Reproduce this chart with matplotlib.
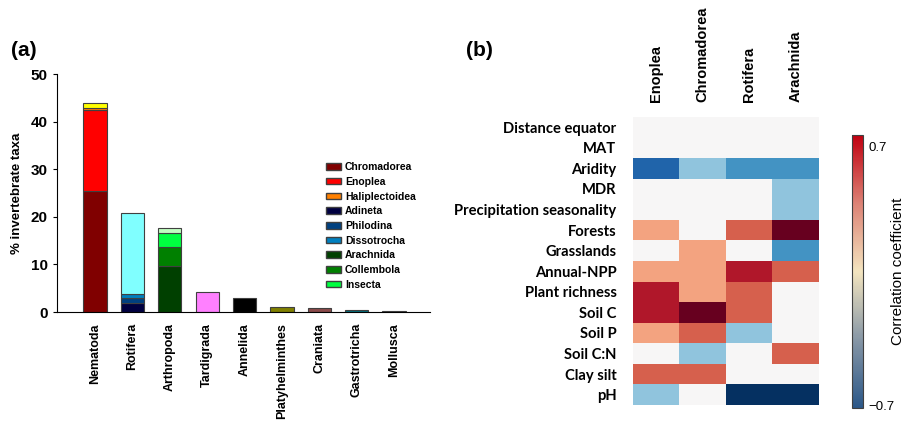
import numpy as np
import matplotlib
matplotlib.use('Agg')
import matplotlib.pyplot as plt
from matplotlib.colors import LinearSegmentedColormap, Normalize
from matplotlib.patches import Patch

# ---- panel (a): stacked bars ----
phyla = ['Nematoda', 'Rotifera', 'Arthropoda', 'Tardigrada', 'Annelida',
         'Platyhelminthes', 'Craniata', 'Gastrotricha', 'Mollusca']

# layer values per phylum (bottom to top)
chromadorea    = [25.4, 0, 0, 0, 0, 0, 0, 0, 0]
enoplea        = [17.0, 0, 0, 0, 0, 0, 0, 0, 0]
haliplectoidea = [0.5, 0, 0, 0, 0, 0, 0, 0, 0]
nematoda_other = [1.0, 0, 0, 0, 0, 0, 0, 0, 0]
adineta        = [0, 1.9, 0, 0, 0, 0, 0, 0, 0]
philodina      = [0, 1.0, 0, 0, 0, 0, 0, 0, 0]
dissotrocha    = [0, 0.9, 0, 0, 0, 0, 0, 0, 0]
rotifera_other = [0, 17.1, 0, 0, 0, 0, 0, 0, 0]
arachnida      = [0, 0, 9.7, 0, 0, 0, 0, 0, 0]
collembola     = [0, 0, 4.0, 0, 0, 0, 0, 0, 0]
insecta        = [0, 0, 3.0, 0, 0, 0, 0, 0, 0]
arthropoda_other = [0, 0, 1.0, 0, 0, 0, 0, 0, 0]
phylum_total   = [0, 0, 0, 4.2, 2.9, 1.1, 0.9, 0.4, 0.15]
phylum_colors  = ['none', 'none', 'none', '#ff80ff', '#000000', '#808000',
                  '#8b4a4a', '#007080', '#c0c0c0']

layers = [
    ('Chromadorea', chromadorea, '#800000', True),
    ('Enoplea', enoplea, '#ff0000', True),
    ('Haliplectoidea', haliplectoidea, '#ff8000', True),
    ('', nematoda_other, '#ffff00', False),
    ('Adineta', adineta, '#000040', True),
    ('Philodina', philodina, '#004080', True),
    ('Dissotrocha', dissotrocha, '#0080c0', True),
    ('', rotifera_other, '#80ffff', False),
    ('Arachnida', arachnida, '#004000', True),
    ('Collembola', collembola, '#008000', True),
    ('Insecta', insecta, '#00ff40', True),
    ('', arthropoda_other, '#c0ffc0', False),
]

# ---- panel (b): heatmap ----
predictors = ['Distance equator', 'MAT', 'Aridity', 'MDR', 'Precipitation seasonality',
              'Forests', 'Grasslands', 'Annual-NPP', 'Plant richness', 'Soil C',
              'Soil P', 'Soil C:N', 'Clay silt', 'pH']
taxa = ['Enoplea', 'Chromadorea', 'Rotifera', 'Arachnida']
corr = np.array([
    [0, 0, 0, 0],
    [0, 0, 0, 0],
    [-0.56, -0.28, -0.42, -0.42],
    [0, 0, 0, -0.28],
    [0, 0, 0, -0.28],
    [0.28, 0, 0.42, 0.7],
    [0, 0.28, 0, -0.42],
    [0.28, 0.28, 0.56, 0.42],
    [0.56, 0.28, 0.42, 0],
    [0.56, 0.7, 0.42, 0],
    [0.28, 0.42, -0.28, 0],
    [0, -0.28, 0, 0.42],
    [0.42, 0.42, 0, 0],
    [-0.28, 0, -0.7, -0.7],
])

plt.rcParams['font.family'] = ['Liberation Sans', 'DejaVu Sans']
fig = plt.figure(figsize=(9.07, 4.23), dpi=100)

ax = fig.add_axes([0.0628, 0.2624, 0.4112, 0.5626])
x = np.arange(len(phyla))
w = 0.62
bottom = np.zeros(len(phyla))
for name, vals, col, _ in layers:
    vals = np.array(vals, dtype=float)
    m = vals > 0
    ax.bar(x[m], vals[m], w, bottom=bottom[m], color=col, edgecolor='#404040', linewidth=0.8)
    bottom += vals
pt = np.array(phylum_total)
m = pt > 0
ax.bar(x[m], pt[m], w, color=[c for c, k in zip(phylum_colors, m) if k],
       edgecolor='#404040', linewidth=0.8)

ax.set_xlim(-1.02, 8.96)
ax.set_ylim(0, 50)
ax.set_yticks([0, 10, 20, 30, 40, 50])
ax.set_xticks(x)
ax.set_xticklabels(phyla, rotation=90, fontweight='bold', fontsize=9)
ax.tick_params(axis='x', length=0, pad=8)
ax.tick_params(axis='y', length=3, labelsize=11)
for t in ax.get_yticklabels():
    t.set_fontweight('bold')
ax.set_ylabel('% invertebrate taxa', fontweight='bold', fontsize=9.5, labelpad=6)
ax.spines['top'].set_visible(False)
ax.spines['right'].set_visible(False)

handles = [Patch(facecolor=c, edgecolor='#404040', label=n) for n, _, c, show in layers if show]
leg = fig.legend(handles=handles, loc='upper left', bbox_to_anchor=(322 / 907, 1 - 158 / 423),
                 frameon=False, fontsize=7.5, handlelength=1.4, handleheight=0.6,
                 labelspacing=0.45, handletextpad=0.4, borderaxespad=0)
for t in leg.get_texts():
    t.set_fontweight('bold')

fig.text(11 / 907, 1 - 50 / 423, '(a)', fontsize=15, fontweight='bold', va='center')
fig.text(466 / 907, 1 - 50 / 423, '(b)', fontsize=15, fontweight='bold', va='center')

# heatmap
hx = fig.add_axes([0.698, 0.0426, 0.205, 0.6808])
hx.imshow(corr, cmap='RdBu_r', vmin=-0.7, vmax=0.7, aspect='auto', interpolation='nearest')
hx.set_yticks(np.arange(len(predictors)))
hx.set_yticklabels(predictors, family=['Lato', 'DejaVu Sans'], fontweight='bold', fontsize=10.6)
hx.set_xticks(np.arange(len(taxa)))
hx.set_xticklabels(taxa, rotation=90, fontweight='bold', fontsize=10.5)
hx.xaxis.tick_top()
hx.tick_params(length=0)
hx.tick_params(axis='x', pad=11)
hx.tick_params(axis='y', pad=12)
for s in hx.spines.values():
    s.set_visible(False)

# colorbar
cb_cmap = LinearSegmentedColormap.from_list(
    'cb', ['#2b5788', '#8797a6', '#f3e4bf', '#dc8275', '#c00010'])
cax = fig.add_axes([852 / 907, 1 - 408 / 423, 11 / 907, 273 / 423])
sm = plt.cm.ScalarMappable(norm=Normalize(-0.716, 0.765), cmap=cb_cmap)
cb = fig.colorbar(sm, cax=cax)
cb.set_ticks([-0.7, 0.7])
cb.set_ticklabels(['\u22120.7', '0.7'])
cb.ax.tick_params(length=0, labelsize=9.5, pad=4)
cb.outline.set_edgecolor('#404040')
cb.set_label('Correlation coefficient', fontsize=11, labelpad=-3)

fig.savefig('out.png', dpi=100)
